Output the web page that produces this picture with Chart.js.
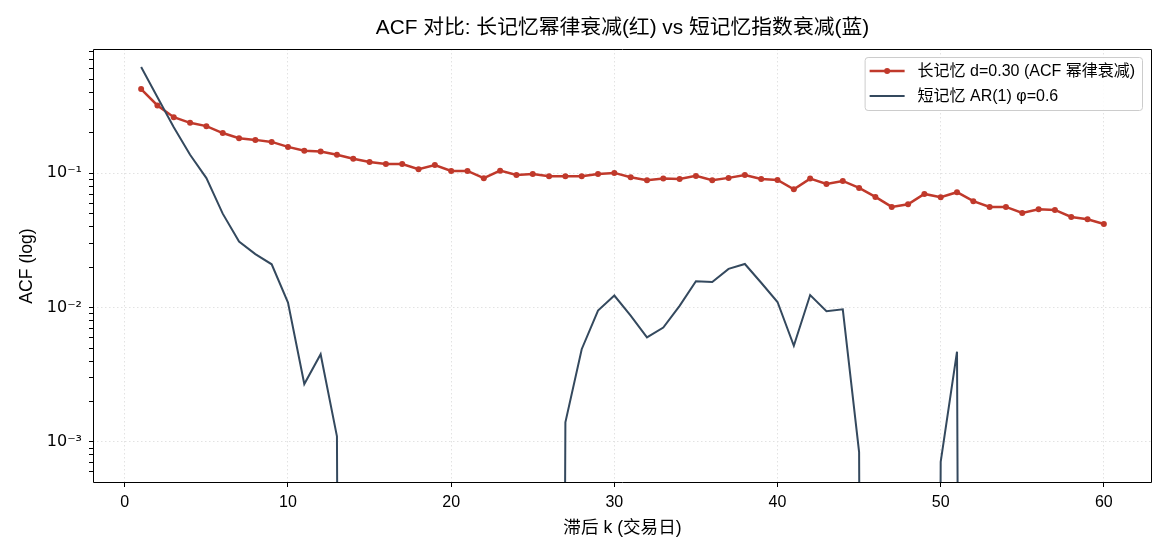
<!DOCTYPE html>
<html lang="zh">
<head>
    <meta charset="UTF-8">
    <title>ACF 对比</title>
    <script src="https://cdn.jsdelivr.net/npm/chart.js"></script>
    <style>
        html, body { margin: 0; padding: 0; background: #fff; }
        #chart { display: block; }
    </style>
</head>
<body>
    <canvas id="chart" width="1170" height="559"></canvas>

    <script>
        // 滞后阶数 k
        const lags = [1, 2, 3, 4, 5, 6, 7, 8, 9, 10, 11, 12, 13, 14, 15, 16, 17, 18, 19, 20,
                      21, 22, 23, 24, 25, 26, 27, 28, 29, 30, 31, 32, 33, 34, 35, 36, 37, 38, 39, 40,
                      41, 42, 43, 44, 45, 46, 47, 48, 49, 50, 51, 52, 53, 54, 55, 56, 57, 58, 59, 60];

        // 长记忆 d=0.30 的样本 ACF
        const longMem = [0.423, 0.319, 0.261, 0.237, 0.224, 0.199, 0.182, 0.177, 0.171, 0.157,
                         0.147, 0.145, 0.137, 0.128, 0.121, 0.117, 0.117, 0.107, 0.115, 0.104,
                         0.104, 0.0918, 0.1045, 0.097, 0.0988, 0.095, 0.095, 0.095, 0.0988, 0.1005,
                         0.0934, 0.0887, 0.0912, 0.0905, 0.0955, 0.0887, 0.0923, 0.097, 0.0905, 0.089,
                         0.076, 0.0912, 0.0832, 0.0876, 0.0777, 0.0666, 0.0561, 0.0588, 0.0701, 0.0663,
                         0.0722, 0.0619, 0.0561, 0.0561, 0.0506, 0.054, 0.0533, 0.0472, 0.0454, 0.0419];

        // 短记忆 AR(1) φ=0.6 的样本 ACF; null = 负值 (在对数轴下被截到底部)
        const shortMem = [0.617, 0.368, 0.22, 0.137, 0.092, 0.050, 0.031, 0.025, 0.021, 0.0109,
                          0.0027, 0.0045, 0.0011, null, null, null, null, null, null, null,
                          null, null, null, null, null, null, 0.0014, 0.0049, 0.0095, 0.0123,
                          0.0087, 0.0060, 0.0071, 0.0103, 0.0157, 0.0155, 0.0194, 0.0211, 0.0153, 0.0110,
                          0.0052, 0.0124, 0.0094, 0.0097, 0.00084, null, null, null, null, 0.00071,
                          0.0047, null, null, null, null, null, null, null, null, null];

        const xTicks = [0, 10, 20, 30, 40, 50, 60];
        const yMajor = [1e-3, 1e-2, 1e-1];

        const TITLE = 'ACF 对比: 长记忆幂律衰减(红) vs 短记忆指数衰减(蓝)';
        const FONT = '"Liberation Sans", Arial, "Noto Sans CJK SC", sans-serif';
        const RED = '#c0392b';
        const BLUE = '#34495e';
        const CLIP = 1e-30; // 负值画到轴下方很远处, 像 matplotlib 一样变成竖线

        const sup = { '-': '⁻', '0': '⁰', '1': '¹', '2': '²', '3': '³', '4': '⁴',
                      '5': '⁵', '6': '⁶', '7': '⁷', '8': '⁸', '9': '⁹' };

        function isDecade(v) {
            const e = Math.log10(v);
            return Math.abs(e - Math.round(e)) < 1e-6;
        }
        function isNiceLog(v) {
            const m = v / Math.pow(10, Math.floor(Math.log10(v) + 1e-9));
            return Math.abs(m - Math.round(m)) < 1e-6;
        }
        function decadeLabel(v) {
            const e = String(Math.round(Math.log10(v)));
            return '10' + e.split('').map(c => sup[c]).join('');
        }

        // 四边黑框 + 标题 (居中于绘图区)
        const framePlugin = {
            id: 'frame',
            afterDraw(chart) {
                const a = chart.chartArea;
                const ctx = chart.ctx;
                ctx.save();
                ctx.setLineDash([]);
                ctx.strokeStyle = '#000';
                ctx.lineWidth = 1;
                const l = Math.round(a.left) + 0.5, t = Math.round(a.top) + 0.5;
                const r = Math.round(a.right) - 0.5, b = Math.round(a.bottom) - 0.5;
                ctx.beginPath();
                ctx.moveTo(l, t);
                ctx.lineTo(r, t);
                ctx.lineTo(r, b);
                ctx.lineTo(l, b);
                ctx.closePath();
                ctx.stroke();

                ctx.fillStyle = '#000';
                ctx.font = '20.8px ' + FONT;
                ctx.textAlign = 'center';
                ctx.textBaseline = 'middle';
                ctx.fillText(TITLE, (a.left + a.right) / 2, 28);
                ctx.restore();
            }
        };

        // 图例 (右上角, 图内)
        const legendPlugin = {
            id: 'innerLegend',
            afterDraw(chart) {
                const ctx = chart.ctx;
                const a = chart.chartArea;
                const items = chart.data.datasets.map(ds => ({
                    text: ds.label, color: ds.borderColor, width: ds.borderWidth, dot: ds.pointRadius > 0
                }));
                ctx.save();
                ctx.setLineDash([]);
                ctx.font = '16px ' + FONT;
                const textW = Math.max(...items.map(it => ctx.measureText(it.text).width));
                const padL = 5, sample = 35, gap = 13, padR = 7, rowH = 25, padT = 13;
                const w = padL + sample + gap + textW + padR;
                const h = padT * 2 + rowH * (items.length - 1) + 2;
                const x0 = a.right - 10 - w;
                const y0 = a.top + 8;

                ctx.beginPath();
                ctx.roundRect(x0 + 0.5, y0 + 0.5, w, h, 3);
                ctx.fillStyle = 'rgba(255,255,255,0.85)';
                ctx.fill();
                ctx.strokeStyle = '#cccccc';
                ctx.lineWidth = 1;
                ctx.stroke();

                items.forEach((it, i) => {
                    const cy = y0 + padT + 1 + i * rowH;
                    ctx.strokeStyle = it.color;
                    ctx.lineWidth = it.width;
                    ctx.beginPath();
                    ctx.moveTo(x0 + padL, cy);
                    ctx.lineTo(x0 + padL + sample, cy);
                    ctx.stroke();
                    if (it.dot) {
                        ctx.fillStyle = it.color;
                        ctx.beginPath();
                        ctx.arc(x0 + padL + sample / 2, cy, 3, 0, Math.PI * 2);
                        ctx.fill();
                    }
                    ctx.fillStyle = '#000';
                    ctx.textBaseline = 'middle';
                    ctx.textAlign = 'left';
                    ctx.fillText(it.text, x0 + padL + sample + gap, cy + 1);
                });
                ctx.restore();
            }
        };

        const ctx = document.getElementById('chart').getContext('2d');
        new Chart(ctx, {
            type: 'line',
            data: {
                datasets: [{
                    label: '长记忆 d=0.30 (ACF 幂律衰减)',
                    data: lags.map((k, i) => ({ x: k, y: longMem[i] })),
                    borderColor: RED,
                    backgroundColor: RED,
                    borderWidth: 2.5,
                    pointRadius: 3,
                    pointBorderWidth: 0,
                    pointBackgroundColor: RED,
                    tension: 0,
                    order: 2
                }, {
                    label: '短记忆 AR(1) φ=0.6',
                    data: lags.map((k, i) => ({ x: k, y: shortMem[i] === null ? CLIP : shortMem[i] })),
                    borderColor: BLUE,
                    backgroundColor: BLUE,
                    borderWidth: 2,
                    pointRadius: 0,
                    tension: 0,
                    order: 1
                }]
            },
            options: {
                responsive: false,
                animation: false,
                devicePixelRatio: 1,
                layout: { padding: { left: 0, right: 18, top: 49, bottom: 0 } },
                plugins: {
                    legend: { display: false },
                    tooltip: { enabled: false },
                    title: { display: false }
                },
                scales: {
                    x: {
                        type: 'linear',
                        min: -1.95,
                        max: 62.95,
                        afterFit: s => { s.height = 76; },
                        afterBuildTicks: s => { s.ticks = xTicks.map(v => ({ value: v })); },
                        ticks: {
                            color: '#000',
                            font: { family: FONT, size: 16 },
                            padding: 6,
                            maxRotation: 0,
                            autoSkip: false
                        },
                        grid: {
                            color: '#e2e2e2',
                            lineWidth: 1,
                            drawTicks: true,
                            tickLength: 4,
                            tickColor: '#000'
                        },
                        border: { display: false, dash: [1.5, 2.5] },
                        title: {
                            display: true,
                            text: '滞后 k (交易日)',
                            color: '#000',
                            font: { family: FONT, size: 17.6 },
                            padding: { top: 4, bottom: 20.4 }
                        }
                    },
                    y: {
                        type: 'logarithmic',
                        min: 4.95e-4,
                        max: 0.84,
                        afterFit: s => { s.width = 93; },
                        afterBuildTicks: s => { s.ticks = s.ticks.filter(t => isNiceLog(t.value)); },
                        ticks: {
                            color: '#000',
                            font: { family: '"DejaVu Sans", ' + FONT, size: 16 },
                            padding: 7,
                            autoSkip: false,
                            callback: v => (yMajor.some(m => Math.abs(m - v) / m < 1e-6) ? decadeLabel(v) : '')
                        },
                        grid: {
                            color: c => (c.tick && isDecade(c.tick.value) ? '#e2e2e2' : 'rgba(0,0,0,0)'),
                            lineWidth: 1,
                            drawTicks: true,
                            tickLength: 4,
                            tickColor: '#000'
                        },
                        border: { display: false, dash: [1.5, 2.5] },
                        title: {
                            display: true,
                            text: 'ACF (log)',
                            color: '#000',
                            font: { family: FONT, size: 17.6 },
                            padding: { top: 16.4, bottom: 0 }
                        }
                    }
                }
            },
            plugins: [framePlugin, legendPlugin]
        });
    </script>
</body>
</html>
